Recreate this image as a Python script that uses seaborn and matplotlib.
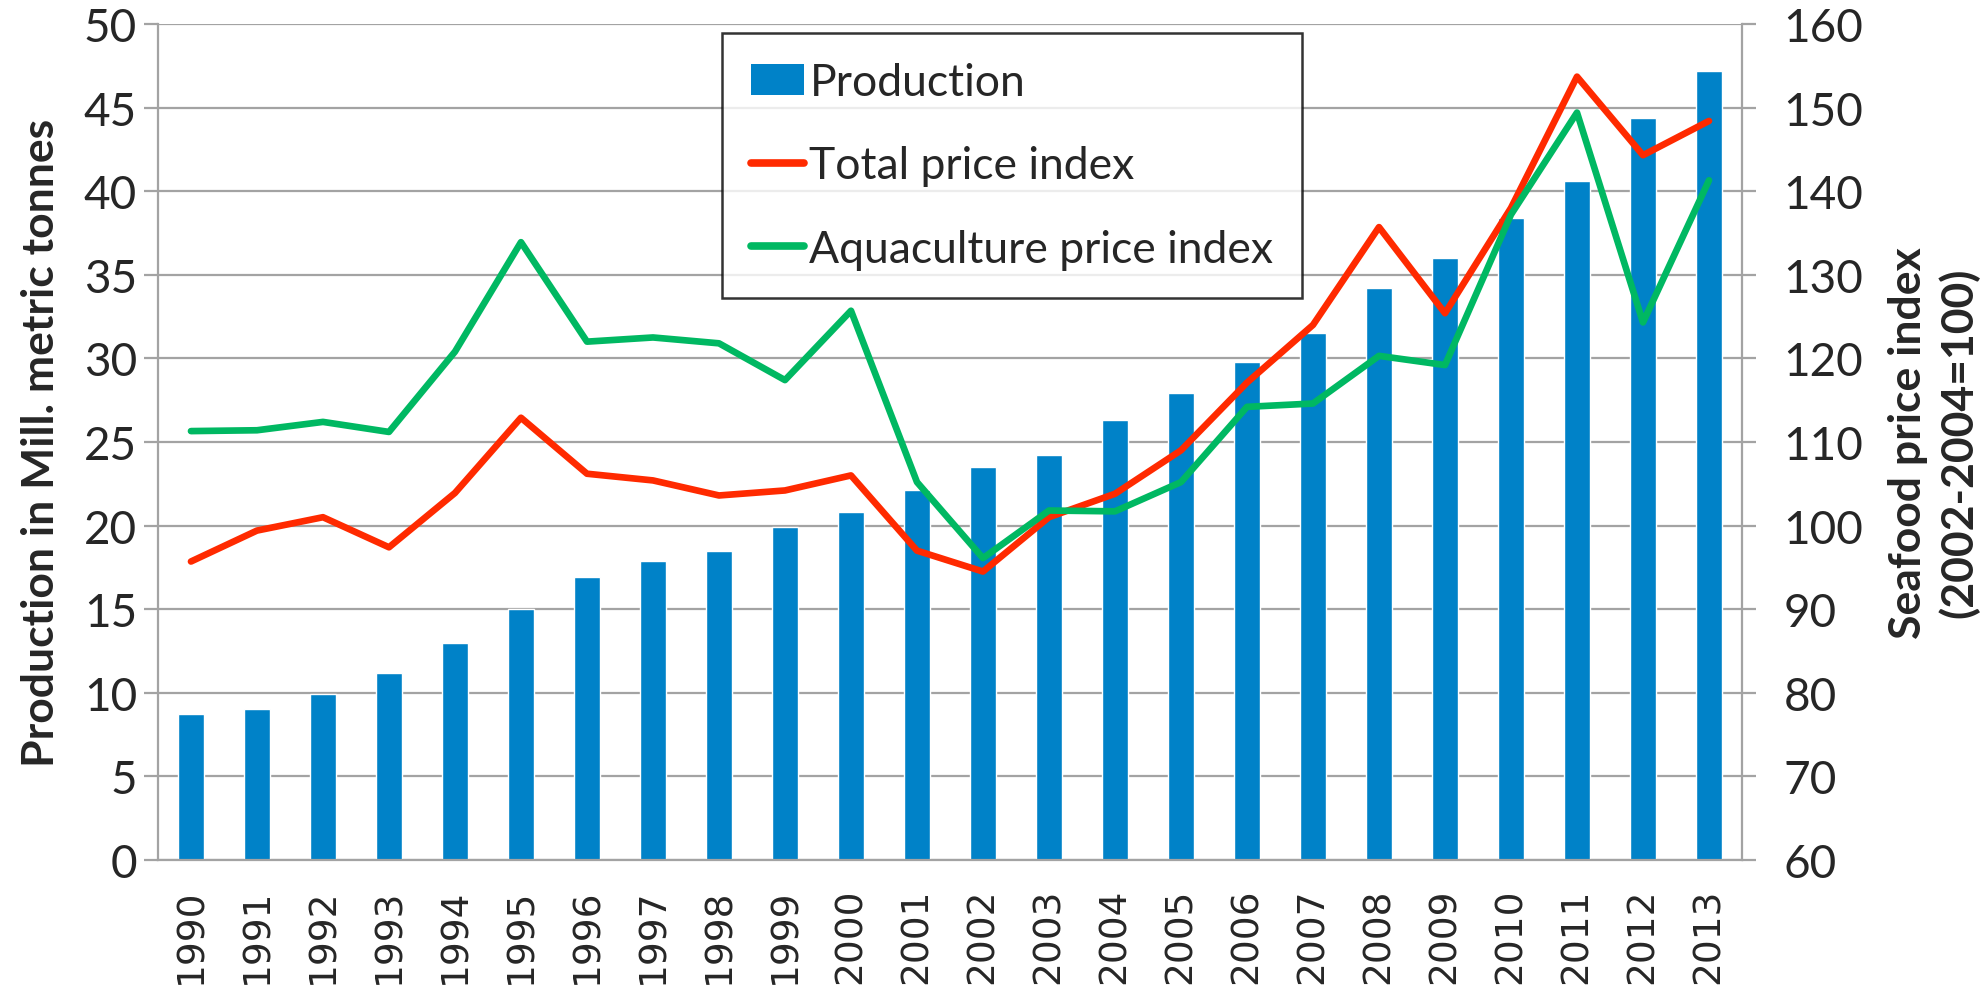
import numpy as np
import matplotlib
matplotlib.use("Agg")
import matplotlib.pyplot as plt
from matplotlib.patches import Patch
from matplotlib.lines import Line2D
import seaborn as sns

# data
years = [str(y) for y in range(1990, 2014)]
production = [8.7, 9.0, 9.9, 11.2, 13.0, 15.0, 16.9, 17.9, 18.5, 19.9, 20.8, 22.1,
              23.5, 24.2, 26.3, 27.9, 29.8, 31.5, 34.2, 36.0, 38.4, 40.6, 44.4, 47.2]
total_index = [95.7, 99.4, 101.0, 97.4, 103.9, 112.9, 106.2, 105.4, 103.6, 104.2, 106.0, 97.0,
               94.5, 101.0, 103.8, 109.0, 117.1, 124.0, 135.7, 125.4, 138.0, 153.7, 144.3, 148.4]
aqua_index = [111.3, 111.4, 112.4, 111.2, 120.8, 133.9, 122.0, 122.5, 121.8, 117.4, 125.7, 105.2,
              96.1, 101.8, 101.7, 105.2, 114.2, 114.6, 120.3, 119.2, 137.2, 149.4, 124.3, 141.3]

bar_color = "#0082C8"
red = "#FF2A00"
green = "#00B862"
grid_gray = "#A3A3A3"

sns.set_style("white")
plt.rcParams["font.family"] = ["Lato", "DejaVu Sans"]

fig = plt.figure(figsize=(19.87, 9.87), dpi=100)
ax = fig.add_axes([0.0795, 0.1277, 0.7972, 0.847])

sns.barplot(x=years, y=production, ax=ax, color=bar_color, saturation=1, width=0.38)

ax2 = ax.twinx()
pos = np.arange(len(years))
sns.lineplot(x=pos, y=total_index, ax=ax2, color=red, lw=4.8, legend=False)
sns.lineplot(x=pos, y=aqua_index, ax=ax2, color=green, lw=4.8, legend=False)

ax.set_xlim(-0.5, len(years) - 0.5)
ax.set_ylim(0, 50)
ax2.set_ylim(60, 160)
ax.set_yticks(range(0, 51, 5))
ax2.set_yticks(range(60, 161, 10))

ax.yaxis.grid(True, color=grid_gray, lw=1.6)
ax.set_axisbelow(True)

ax.set_xticks(pos)
ax.set_xticklabels(years, rotation=90, family="DejaVu Sans", fontsize=27)
ax.set_xticks(np.arange(-0.5, len(years), 1), minor=True)
ax.tick_params(axis="x", which="major", length=0, pad=20)
ax.tick_params(axis="x", which="minor", length=11, width=1.6, color=grid_gray)
ax.tick_params(axis="y", length=10, width=1.6, color=grid_gray, labelsize=33, pad=5)
ax2.tick_params(axis="y", length=10, width=1.6, color=grid_gray, labelsize=33, pad=20)

for s in ["top", "right"]:
    ax.spines[s].set_visible(False)
for s in ["top", "left", "bottom"]:
    ax2.spines[s].set_visible(False)
for sp in [ax.spines["left"], ax.spines["bottom"], ax2.spines["right"]]:
    sp.set_color(grid_gray)
    sp.set_linewidth(1.6)

ax.set_xlabel("")
ax.set_ylabel("Production in Mill. metric tonnes", fontsize=32, fontweight="bold")
ax.yaxis.set_label_coords(-0.061, 0.5)
ax2.set_ylabel("Seafood price index\n(2002-2004=100)", fontsize=32, fontweight="bold",
               linespacing=1.3)
ax2.yaxis.set_label_coords(1.092, 0.5)

handles = [Patch(facecolor=bar_color, edgecolor="none"),
           Line2D([], [], color=red, lw=5.5),
           Line2D([], [], color=green, lw=5.5)]
labels = ["Production", "Total price index", "Aquaculture price index"]
leg = ax2.legend(handles, labels, loc="upper left", bbox_to_anchor=(0.356, 0.989),
                 fontsize=32, frameon=True, fancybox=False, edgecolor="black",
                 handlelength=1.2, handletextpad=0.12, labelspacing=0.95,
                 borderpad=0.65, borderaxespad=0)
leg.get_frame().set_linewidth(1.8)

fig.savefig("out.png", dpi=100)
